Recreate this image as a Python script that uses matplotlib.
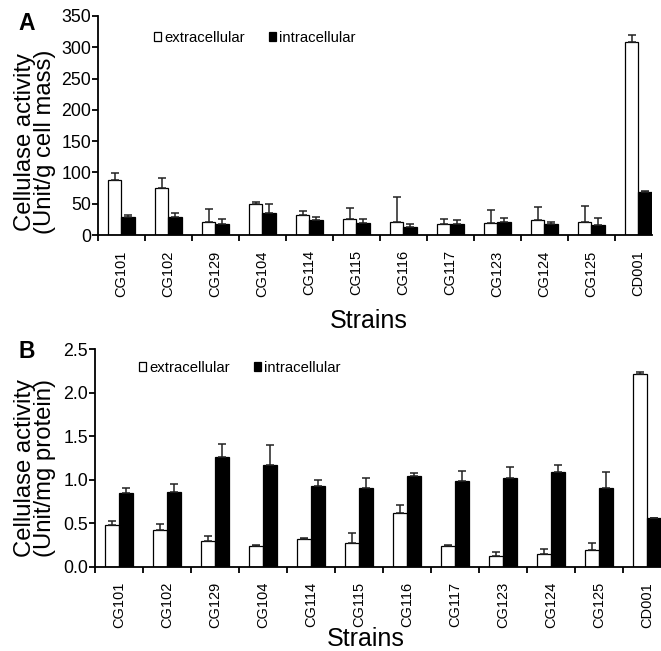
import matplotlib
matplotlib.use('Agg')
import matplotlib.pyplot as plt
import numpy as np
from matplotlib.patches import Patch

plt.rcParams['font.family'] = ['Liberation Sans', 'DejaVu Sans']

strains = ['CG101', 'CG102', 'CG129', 'CG104', 'CG114', 'CG115',
           'CG116', 'CG117', 'CG123', 'CG124', 'CG125', 'CD001']

# A: Unit/g cell mass
extra_mass = [88, 74.6, 20.2, 49.5, 32.5, 25, 21.3, 17, 19.2, 23.4, 21.3, 308]
extra_mass_sd = [11.6, 16, 21.4, 3.2, 5.9, 18.7, 38.9, 8.6, 20.8, 21.4, 24.5, 11.7]
intra_mass = [29.3, 29.3, 18.1, 35.7, 24.5, 18.6, 12.3, 17, 20.8, 17, 16, 69.3]
intra_mass_sd = [2.7, 6.4, 7.5, 13.8, 4.8, 7, 4.7, 7.5, 5.8, 4.3, 11.7, 1.6]

# B: Unit/mg protein
extra_prot = [0.48, 0.42, 0.29, 0.234, 0.32, 0.276, 0.622, 0.234, 0.123, 0.146, 0.188, 2.212]
extra_prot_sd = [0.046, 0.07, 0.06, 0.016, 0.014, 0.112, 0.088, 0.019, 0.042, 0.061, 0.085, 0.023]
intra_prot = [0.845, 0.864, 1.256, 1.167, 0.925, 0.902, 1.04, 0.983, 1.025, 1.087, 0.906, 0.557]
intra_prot_sd = [0.065, 0.092, 0.154, 0.233, 0.075, 0.116, 0.04, 0.115, 0.127, 0.084, 0.184, 0]

yticksA = [0, 50, 100, 150, 200, 250, 300, 350]
yticksB = [0.0, 0.5, 1.0, 1.5, 2.0, 2.5]

W, H = 661, 651
fig = plt.figure(figsize=(W / 100, H / 100), dpi=100)

def px(l, b, r, t):
    return [l / W, 1 - b / H, (r - l) / W, (b - t) / H]

axA = fig.add_axes(px(98, 235, 652, 16))
axB = fig.add_axes(px(95, 566.7, 671, 349.3))

bw = 0.29


def panel(ax, ext, ext_sd, intr, intr_sd, yticks, ylab, fmt, xlim_r,
          leg_xy, lab_xy, ylab_xy):
    x = np.arange(len(strains))
    ax.bar(x - bw / 2, ext, bw, color='white', edgecolor='black', linewidth=0.9, zorder=2)
    ax.bar(x + bw / 2, intr, bw, color='black', edgecolor='black', linewidth=0.9, zorder=2)
    ax.errorbar(x - bw / 2, ext, yerr=[np.zeros(len(ext)), ext_sd], fmt='none',
                ecolor='#222222', elinewidth=1.1, capsize=2.6, capthick=1.1, zorder=3)
    ax.errorbar(x + bw / 2, intr, yerr=[np.zeros(len(intr)), intr_sd], fmt='none',
                ecolor='#222222', elinewidth=1.1, capsize=2.6, capthick=1.1, zorder=3)
    ax.set_xlim(-0.5, xlim_r)
    ax.set_ylim(yticks[0], yticks[-1])
    ax.set_yticks(yticks)
    ax.set_yticklabels([fmt % v for v in yticks])
    ax.set_xticks(x)
    ax.set_xticklabels(strains, rotation=90, fontsize=10.5)
    ax.set_xticks(np.arange(-0.5, len(strains) - 0.5, 1), minor=True)
    ax.tick_params(axis='x', which='major', length=0, pad=11)
    ax.tick_params(axis='x', which='minor', length=4, width=1.3, direction='out')
    ax.tick_params(axis='y', which='major', length=4, width=1.3, direction='out',
                   labelsize=12.8, pad=1)
    for s in ['top', 'right']:
        ax.spines[s].set_visible(False)
    for s in ['left', 'bottom']:
        ax.spines[s].set_linewidth(1.3)
    ax.set_ylabel(ylab, fontsize=17.2, linespacing=0.9)
    ax.yaxis.set_label_coords(*ylab_xy)
    ax.set_xlabel('Strains', fontsize=18)
    ax.xaxis.set_label_coords(*lab_xy)
    handles = [Patch(facecolor='white', edgecolor='black', linewidth=0.9),
               Patch(facecolor='black', edgecolor='black', linewidth=0.9)]
    ax.legend(handles, ['extracellular', 'intracellular'], ncol=2, frameon=False,
              loc='center left', bbox_to_anchor=leg_xy, fontsize=10.7,
              handlelength=0.5, handleheight=0.5, handletextpad=0.2,
              columnspacing=1.6, borderpad=0, borderaxespad=0)


panel(axA, extra_mass, extra_mass_sd, intra_mass, intra_mass_sd, yticksA,
      'Cellulase activity\n(Unit/g cell mass)', '%d', 11.29,
      (0.101, 0.901), (0.489, -0.338), (-0.075, 0.425))
panel(axB, extra_prot, extra_prot_sd, intra_prot, intra_prot_sd, yticksB,
      'Cellulase activity\n(Unit/mg protein)', '%.1f', 11.5,
      (0.076, 0.914), (0.47, -0.277), (-0.068, 0.454))

fig.text(18 / W, 1 - 30 / H, 'A', fontsize=16.5, fontweight='bold', va='baseline')
fig.text(18 / W, 1 - 358 / H, 'B', fontsize=16.5, fontweight='bold', va='baseline')

fig.savefig('out.png', dpi=100)
